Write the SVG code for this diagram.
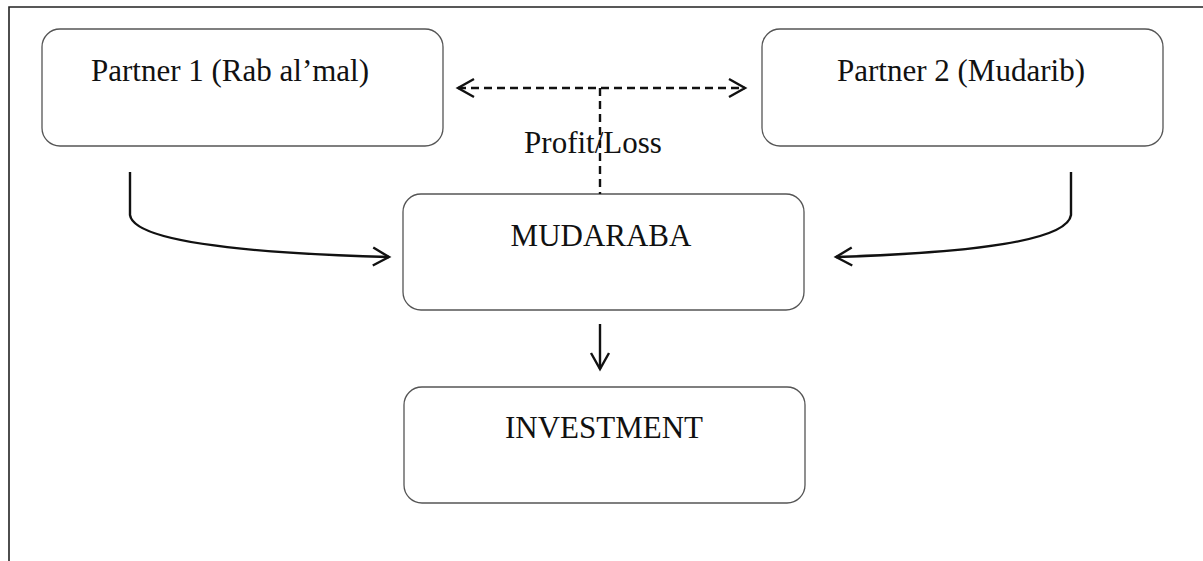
<svg xmlns="http://www.w3.org/2000/svg" width="1203" height="561" viewBox="0 0 1203 561">
  <style>
    .box { fill: #ffffff; stroke: #555555; stroke-width: 1.3; }
    .label { font-family: "Liberation Serif", "Times New Roman", serif; font-size: 31px; fill: #111111; text-anchor: middle; }
    .link { fill: none; stroke: #111111; stroke-width: 2.4; }
    .dash { fill: none; stroke: #111111; stroke-width: 2.4; stroke-dasharray: 8 5; }
  </style>
  <defs>
    <marker id="open" viewBox="0 0 22 22" refX="19" refY="11" markerWidth="22" markerHeight="22" markerUnits="userSpaceOnUse" orient="auto-start-reverse">
      <path d="M3,2 L19,11 L3,20" fill="none" stroke="#111111" stroke-width="2.4"/>
    </marker>
  </defs>
  <rect x="0" y="0" width="1203" height="561" fill="#ffffff"/>
  <!-- outer frame: top and left edges -->
  <path d="M9,561 L9,7 L1203,7" fill="none" stroke="#222222" stroke-width="1.6"/>

  <g id="partner1">
    <rect class="box" x="42" y="29" width="401" height="117" rx="18"/>
    <text class="label" x="230" y="81">Partner 1 (Rab al’mal)</text>
  </g>
  <g id="partner2">
    <rect class="box" x="762" y="29" width="401" height="117" rx="18"/>
    <text class="label" x="961" y="81">Partner 2 (Mudarib)</text>
  </g>
  <g id="mudaraba">
    <rect class="box" x="403" y="194" width="401" height="116" rx="18"/>
    <text class="label" x="601" y="246">MUDARABA</text>
  </g>
  <g id="investment">
    <rect class="box" x="404" y="387" width="401" height="116" rx="18"/>
    <text class="label" x="604" y="438">INVESTMENT</text>
  </g>

  <g id="connectors">
    <path class="dash" d="M458,88 L745,88" marker-start="url(#open)" marker-end="url(#open)"/>
    <path class="dash" d="M600,88 L600,194"/>
    <text class="label" x="593" y="153">Profit/Loss</text>
    <path class="link" d="M130,172 L130,215 Q135,250 389,257" marker-end="url(#open)"/>
    <path class="link" d="M1071,172 L1071,215 Q1066,250 836,257" marker-end="url(#open)"/>
    <path class="link" d="M600,324 L600,369" marker-end="url(#open)"/>
  </g>
</svg>
